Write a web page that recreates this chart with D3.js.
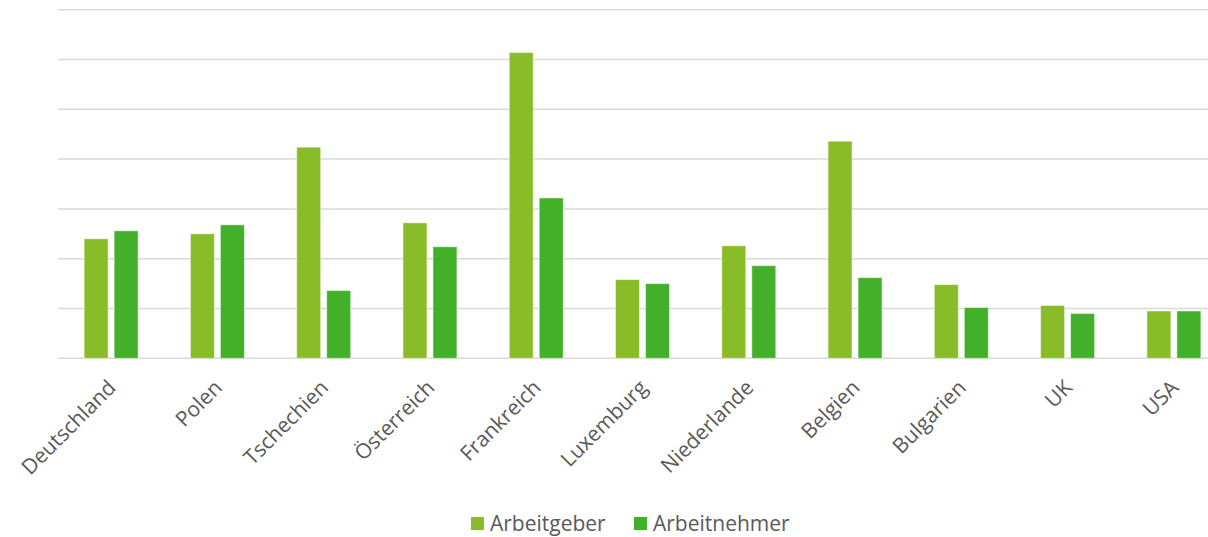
<!DOCTYPE html>
<html>
<head>
<meta charset="utf-8">
<script src="https://d3js.org/d3.v7.min.js"></script>
<style>
  body { margin: 0; background: #fff; }
  text { font-family: "Open Sans", sans-serif; fill: #595959; }
</style>
</head>
<body>
<div id="chart"></div>
<script>
var countries = ["Deutschland", "Polen", "Tschechien", "Österreich", "Frankreich", "Luxemburg",
                 "Niederlande", "Belgien", "Bulgarien", "UK", "USA"]
var arbeitgeber = [12.0, 12.5, 21.2, 13.6, 30.7, 7.9, 11.3, 21.8, 7.4, 5.3, 4.75]
var arbeitnehmer = [12.8, 13.4, 6.8, 11.2, 16.1, 7.5, 9.3, 8.1, 5.1, 4.5, 4.75]
var seriesNames = ["Arbeitgeber", "Arbeitnehmer"]
var gridTicks = [0, 5, 10, 15, 20, 25, 30, 35]

var colors = ["#88bc29", "#43b02a"]

var svgWidth = 1208
var svgHeight = 537

var svg = d3.select("#chart")
    .append("svg")
    .attr("width", svgWidth)
    .attr("height", svgHeight)

var xScale = d3.scaleBand()
    .domain(countries)
    .range([58, 1227])

var yScale = d3.scaleLinear()
    .domain([0, 35])
    .range([358.3, 9.7])

// gridlines
svg.append("g")
    .selectAll("line")
    .data(gridTicks)
    .enter()
    .append("line")
    .attr("x1", 58)
    .attr("x2", 1227)
    .attr("y1", d => yScale(d))
    .attr("y2", d => yScale(d))
    .attr("stroke", "#d9d9d9")
    .attr("stroke-width", 1.5)

var barW = 24, gap = 6
var groups = [arbeitgeber, arbeitnehmer]

groups.forEach(function(vals, s) {
    svg.append("g")
        .selectAll("rect")
        .data(vals)
        .enter()
        .append("rect")
        .attr("x", (d, i) => xScale(countries[i]) + xScale.bandwidth() / 2 - barW - gap / 2 + s * (barW + gap))
        .attr("y", d => yScale(d))
        .attr("width", barW)
        .attr("height", d => yScale(0) - yScale(d))
        .attr("fill", colors[s])
        .attr("stroke", "#ffffff")
        .attr("stroke-opacity", 0.5)
        .attr("stroke-width", 1)
})

// category labels
svg.append("g")
    .selectAll("text")
    .data(countries)
    .enter()
    .append("text")
    .attr("transform", d => `translate(${xScale(d) + xScale.bandwidth() / 2 + 6},${389}) rotate(-45)`)
    .attr("text-anchor", "end")
    .attr("font-size", "21px")
    .text(d => d)

// legend
var legend = svg.append("g")
var legendX = [471, 634]
seriesNames.forEach(function(name, i) {
    legend.append("rect")
        .attr("x", legendX[i])
        .attr("y", 517)
        .attr("width", 13)
        .attr("height", 13)
        .attr("fill", colors[i])
    legend.append("text")
        .attr("x", legendX[i] + 19)
        .attr("y", 524)
        .attr("dy", "0.35em")
        .attr("font-size", "21px")
        .text(name)
})
</script>
</body>
</html>
